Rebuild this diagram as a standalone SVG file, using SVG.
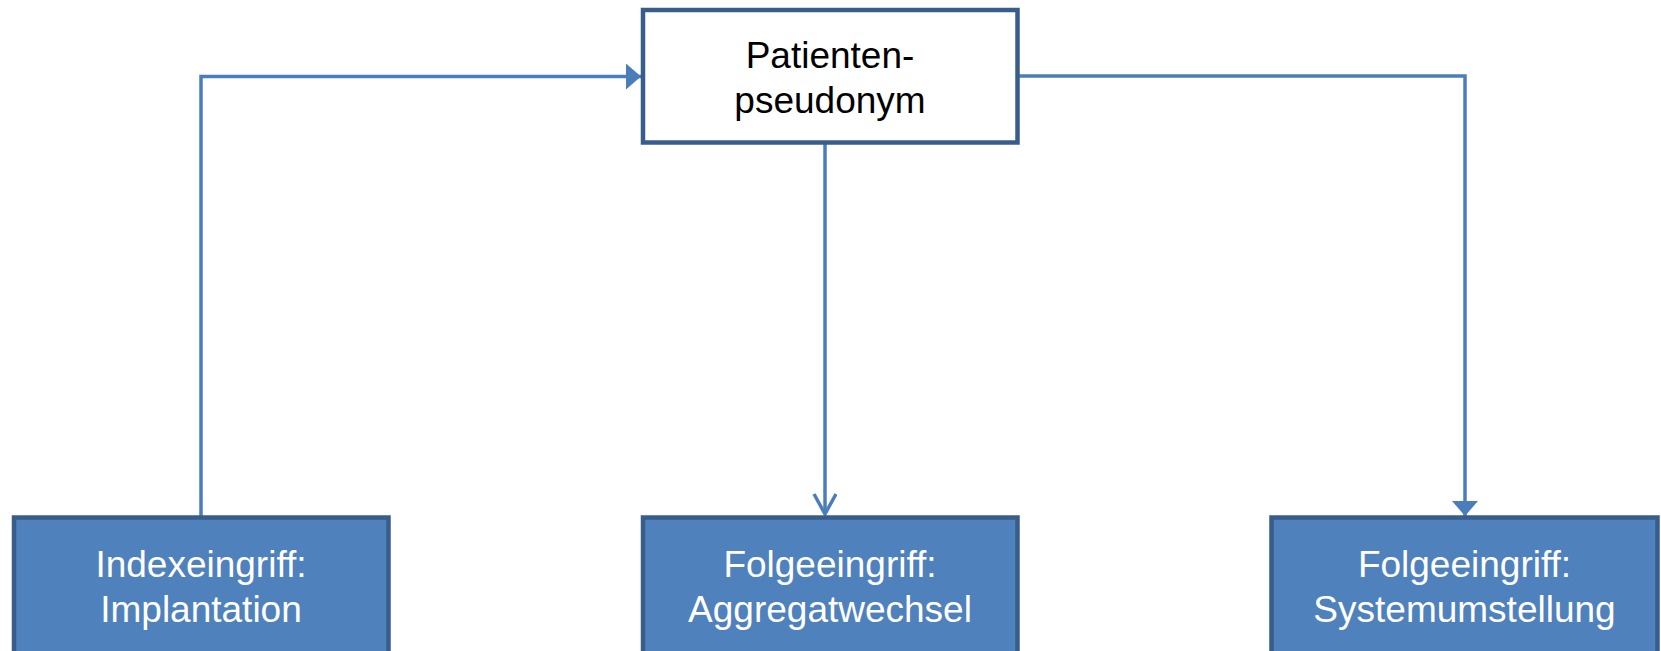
<svg xmlns="http://www.w3.org/2000/svg" width="1661" height="651" viewBox="0 0 1661 651">
<style>
.top{fill:#ffffff;stroke:#385d8a;stroke-width:4.5}
.bot{fill:#4f81bd;stroke:#385d8a;stroke-width:4.5}
.conn{fill:none;stroke:#4a7ebb;stroke-width:3.5}
text{font-family:"Liberation Sans",Arial,sans-serif;font-size:37px;text-anchor:middle}
.dark{fill:#000000}
.light{fill:#ffffff}
</style>
<defs>
<marker id="tri" markerUnits="userSpaceOnUse" markerWidth="16" markerHeight="28" refX="15" refY="13" orient="auto">
<path d="M0,0 L15,13 L0,26 Z" fill="#4a7ebb"/>
</marker>
<marker id="vee" markerUnits="userSpaceOnUse" markerWidth="24" markerHeight="28" refX="21" refY="12" orient="auto">
<path d="M1,1 L21,12 L1,23" fill="none" stroke="#4a7ebb" stroke-width="3.5"/>
</marker>
</defs>
<g id="connectors">
<path class="conn" d="M201,517 L201,76.5 L641,76.5" marker-end="url(#tri)"/>
<path class="conn" d="M1019,76 L1465,76 L1465,516" marker-end="url(#tri)"/>
<path class="conn" d="M825,144 L825,514" marker-end="url(#vee)"/>
</g>
<g id="patientenpseudonym">
<rect class="top" x="643" y="10" width="374.5" height="132.5"/>
<text class="dark" x="830" y="68">Patienten-</text>
<text class="dark" x="830" y="113">pseudonym</text>
</g>
<g id="indexeingriff">
<rect class="bot" x="14" y="517.5" width="374.5" height="150"/>
<text class="light" x="201" y="577">Indexeingriff:</text>
<text class="light" x="201" y="622">Implantation</text>
</g>
<g id="aggregatwechsel">
<rect class="bot" x="643" y="517.5" width="374.5" height="150"/>
<text class="light" x="830" y="577">Folgeeingriff:</text>
<text class="light" x="830" y="622">Aggregatwechsel</text>
</g>
<g id="systemumstellung">
<rect class="bot" x="1271.5" y="517.5" width="386" height="150"/>
<text class="light" x="1464.5" y="577">Folgeeingriff:</text>
<text class="light" x="1464.5" y="622">Systemumstellung</text>
</g>
</svg>
